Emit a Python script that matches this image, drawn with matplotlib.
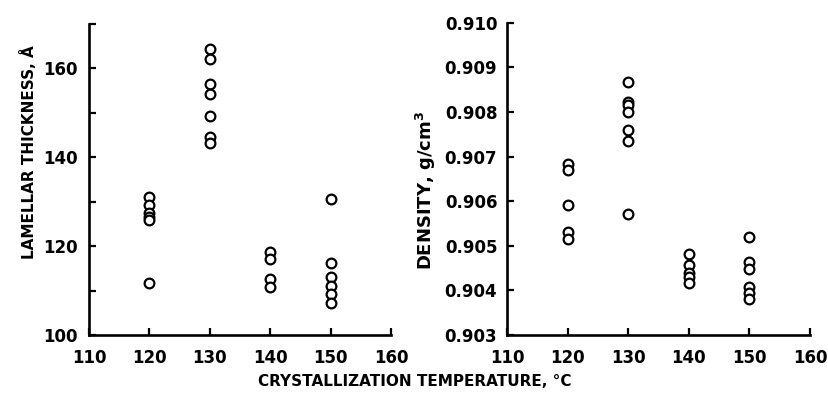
import matplotlib
matplotlib.use("Agg")
import matplotlib.pyplot as plt
from matplotlib.ticker import FixedLocator

# ---- data ----
temps = [120, 130, 140, 150]
thickness = {
    120: [131.1, 129.2, 127.4, 126.6, 125.9, 111.8],
    130: [164.3, 162.2, 156.5, 154.2, 149.3, 144.5, 143.3],
    140: [118.6, 117.0, 112.5, 110.9],
    150: [130.6, 116.1, 113.1, 111.1, 109.2, 107.1],
}
density = {
    120: [0.90683, 0.90669, 0.90592, 0.90531, 0.90516],
    130: [0.90867, 0.90823, 0.90815, 0.90800, 0.90759, 0.90735, 0.90571],
    140: [0.90481, 0.90457, 0.90438, 0.90429, 0.90416],
    150: [0.90520, 0.90464, 0.90449, 0.90408, 0.90395, 0.90381],
}
x_ticks = [110, 120, 130, 140, 150, 160]
left_yticklabels = [100, 120, 140, 160]
left_minor = [110, 130, 150, 170]
right_yticks = [0.903, 0.904, 0.905, 0.906, 0.907, 0.908, 0.909, 0.910]

plt.rcParams['font.family'] = ['DejaVu Sans']
plt.rcParams['font.weight'] = 'bold'

fig = plt.figure(figsize=(8.29, 3.93), dpi=100)
W, H = 829, 393

def ax_rect(x0, x1, ytop, ybot):
    return [x0 / W, 1 - ybot / H, (x1 - x0) / W, (ybot - ytop) / H]

ax1 = fig.add_axes(ax_rect(89, 391, 24, 335))
ax2 = fig.add_axes(ax_rect(507, 810, 22.7, 335))

def style(ax, ypad):
    for s in ['top', 'right']:
        ax.spines[s].set_visible(False)
    for s in ['left', 'bottom']:
        ax.spines[s].set_linewidth(1.9)
        ax.spines[s].set_color('black')
    ax.set_xlim(110, 160)
    ax.set_xticks(x_ticks)
    ax.set_xticklabels([str(t) for t in x_ticks])
    ax.tick_params(axis='both', which='both', direction='in', length=5,
                   width=1.6, labelsize=12, colors='black')
    ax.tick_params(axis='x', pad=10)
    ax.tick_params(axis='y', pad=ypad)

mk = dict(marker='o', linestyle='none', markersize=7, markerfacecolor='white',
          markeredgecolor='black', markeredgewidth=1.6, clip_on=False)

for t in temps:
    ax1.plot([t] * len(thickness[t]), thickness[t], **mk)
    ax2.plot([t] * len(density[t]), density[t], **mk)

style(ax1, 8)
ax1.set_ylim(100, 170)
ax1.yaxis.set_major_locator(FixedLocator(left_yticklabels))
ax1.yaxis.set_minor_locator(FixedLocator(left_minor))
ax1.set_yticklabels([str(v) for v in left_yticklabels])

style(ax2, 7)
ax2.set_ylim(0.903, 0.910)
ax2.set_yticks(right_yticks)
ax2.set_yticklabels([f"{v:.3f}" for v in right_yticks])

for ax in (ax1, ax2):
    for lab in ax.get_xticklabels() + ax.get_yticklabels():
        lab.set_fontweight('bold')

fig.text(29 / W, 1 - 152 / H, "LAMELLAR THICKNESS, Å", rotation=90,
         ha='center', va='center', fontsize=11, fontweight='bold')
fig.text(426 / W, 1 - 190 / H, "DENSITY, g/cm$^\\mathbf{3}$", rotation=90,
         ha='center', va='center', fontsize=13, fontweight='bold')
fig.text(415 / W, 1 - 382 / H, "CRYSTALLIZATION TEMPERATURE, °C",
         ha='center', va='center', fontsize=11, fontweight='bold')

fig.savefig("out.png", dpi=100)
